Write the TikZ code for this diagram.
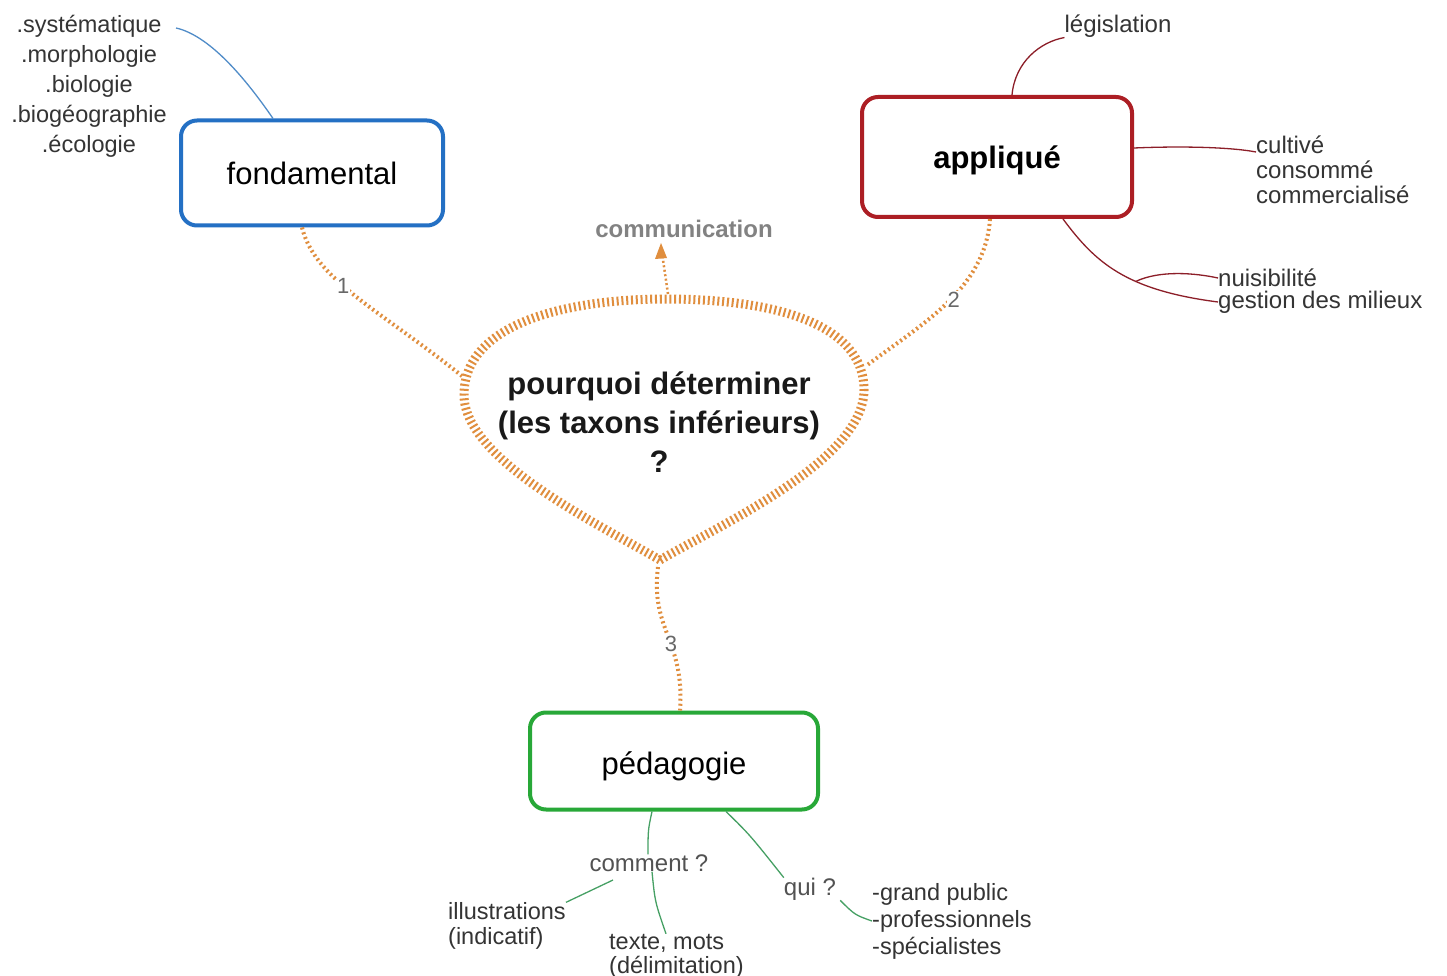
\documentclass[tikz,border=0pt]{standalone}
\usepackage{fontspec}
\setmainfont{Liberation Sans}
\usetikzlibrary{arrows.meta,calc}
\definecolor{org}{RGB}{224,142,62}
\definecolor{bluebox}{RGB}{36,112,196}
\definecolor{redbox}{RGB}{172,30,36}
\definecolor{greenbox}{RGB}{40,168,56}
\definecolor{txt}{RGB}{52,52,52}
\definecolor{graytxt}{RGB}{130,130,130}
\definecolor{blueline}{RGB}{80,140,200}
\definecolor{redline}{RGB}{140,30,40}
\definecolor{greenline}{RGB}{70,160,100}
\begin{document}
\begin{tikzpicture}[x=1pt,y=-1pt,
  lbl/.style={font=\fontsize{24}{25}\selectfont, text=txt, inner sep=0pt},
  mbox/.style={draw, rounded corners=16pt, line width=4pt, fill=white, inner sep=0pt},
  dotcon/.style={draw=org, line width=4pt, dash pattern=on 2pt off 3pt},
  thinline/.style={line width=1.3pt},
  numlbl/.style={font=\fontsize{22}{24}\selectfont, text=graytxt!80!black, inner sep=1pt, fill=white}]
\useasboundingbox (0,0) rectangle (1447,976);
\fill[white] (0,0) rectangle (1447,976);

% boxes
\node[mbox, draw=bluebox, minimum width=262pt, minimum height=105pt, font=\fontsize{31}{36}\selectfont] (fond) at (312,173) {fondamental};
\node[mbox, draw=redbox, minimum width=270pt, minimum height=120pt, text height=28pt, text depth=4pt, font=\bfseries\fontsize{31}{36}\selectfont] (appl) at (997,157) {appliqué};
\node[mbox, draw=greenbox, minimum width=288pt, minimum height=97pt, text height=30pt, text depth=4pt, font=\fontsize{31}{36}\selectfont] (ped) at (674,761) {pédagogie};

% central shape
\draw[org, line width=9pt, dash pattern=on 2pt off 2.8pt, fill=white]
  (660,560) .. controls (600,525) and (464,460) .. (464,395)
  .. controls (464,322) and (570,299) .. (666,299)
  .. controls (770,299) and (864,322) .. (864,390)
  .. controls (864,460) and (720,525) .. (660,560);
\node[align=center, inner sep=0pt, font=\bfseries\fontsize{31}{39}\selectfont, text=black!90] (centre) at (659,422)
  {pourquoi déterminer\\(les taxons inférieurs)\\?};
\coordinate (cL) at (462,376);
\coordinate (cR) at (866,366);
\coordinate (cB) at (658,567);
\coordinate (cT) at (668,294);

% communication
\node[font=\bfseries\fontsize{24}{28}\selectfont, text=graytxt, inner sep=0pt] (comm) at (684,229) {communication};
\coordinate (commtip) at (661,243);
\draw[org, line width=2.5pt, dash pattern=on 2pt off 2.5pt] (cT) -- ($(commtip)+(1,10)$);
\fill[org] (commtip) -- ++(-6,16) -- ++(12,-1) -- cycle;

% dotted connectors
\draw[dotcon] (fond.south -| 302,0) .. controls (315,280) and (380,310) .. (cL)
  node[numlbl, pos=0.42] {1};
\draw[dotcon] (appl.south -| 990,0) .. controls (985,290) and (920,325) .. (cR)
  node[numlbl, pos=0.47, right=-6pt] {2};
\draw[dotcon] (cB) .. controls (650,630) and (685,640) .. (ped.north -| 680,0)
  node[numlbl, pos=0.57] {3};

% fondamental leaves
\node[lbl, align=center, font=\fontsize{23.5}{30}\selectfont] (fleaves) at (89,86)
  {.systématique\\.morphologie\\.biologie\\.biogéographie\\.écologie};
\coordinate (fl1) at (176,28);
\draw[blueline, thinline] (fl1) .. controls (212,36) and (250,85) .. (fond.north -| 273,0);

% appliqué leaves
\node[lbl] (legis) at (1118,26) {législation};
\draw[redline, thinline] (appl.north -| 1012,0) .. controls (1015,62) and (1040,42) .. (legis.south west);
\node[lbl, align=left, anchor=west] (cult) at (1256,170) {cultivé\\consommé\\commercialisé};
\draw[redline, thinline] (appl.east |- 0,148) .. controls (1180,146) and (1230,147) .. (cult.west |- 0,152);
\node[lbl, anchor=west] (nuis) at (1218,278) {nuisibilité};
\node[lbl, anchor=west] (gest) at (1218,302) {gestion des milieux};
\draw[redline, thinline] (appl.south -| 1063,0) .. controls (1095,262) and (1125,290) .. (gest.west)
  coordinate[pos=0.62] (br);
\draw[redline, thinline] (br) .. controls (1160,270) and (1195,273) .. (nuis.west);

% pédagogie leaves
\node[lbl, text=txt!85] (comment) at (649,863) {comment ?};
\draw[greenline, thinline] (ped.south -| 652,0) .. controls (648,830) .. (comment.north -| 648,0);
\node[lbl, align=left, anchor=west, font=\fontsize{23.5}{25}\selectfont] (illus) at (448,926) {illustrations\\(indicatif)};
\draw[greenline, thinline] (613,880) -- (illus.north east);
\node[lbl, align=left, anchor=west, font=\fontsize{23.5}{24}\selectfont] (texte) at (609,956) {texte, mots\\(délimitation)};
\draw[greenline, thinline] (comment.south -| 652,0) .. controls (655,902) .. (texte.north -| 666,0);
\node[lbl, text=txt!85] (qui) at (810,889) {qui ?};
\draw[greenline, thinline] (ped.south -| 726,0) .. controls (750,835) .. (qui.north west);
\node[lbl, align=left, anchor=west, font=\fontsize{23.5}{27}\selectfont] (public) at (872,921) {-grand public\\-professionnels\\-spécialistes};
\draw[greenline, thinline] ($(qui.south east)+(4,0)$) .. controls (855,915) .. (public.west);
\end{tikzpicture}
\end{document}
